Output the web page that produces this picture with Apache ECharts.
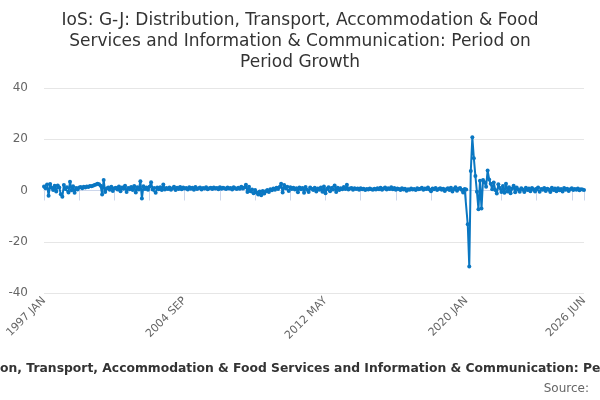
<!DOCTYPE html>
<html>
<head>
<meta charset="utf-8">
<script src="https://cdn.jsdelivr.net/npm/echarts@6/dist/echarts.min.js"></script>
<style>
  html, body { margin: 0; padding: 0; background: #fff; }
  #main { width: 600px; height: 400px; }
</style>
</head>
<body>
<div id="main"></div>
<script>
var chartDom = document.getElementById('main');
var myChart = echarts.init(chartDom);
var option;

var monthNames = ['JAN', 'FEB', 'MAR', 'APR', 'MAY', 'JUN', 'JUL', 'AUG', 'SEP', 'OCT', 'NOV', 'DEC'];

// monthly categories, 1997 JAN .. 2026 JUN
var categories = [];
for (var y = 1997; y <= 2026; y++) {
  for (var m = 0; m < 12; m++) {
    if (y === 2026 && m > 5) break;
    categories.push(y + ' ' + monthNames[m]);
  }
}

// period on period growth (%), one row per year
var growth = [
  1.6, 0.9, 2.3, -2.0, 2.5, 1.1, 0.2, 1.9, -0.4, 2.0, 1.2, -1.5,
  -2.4, 2.1, 0.6, 1.3, -0.8, 3.4, 0.1, 1.7, -0.9, 1.0, 0.4, 1.2,
  1.4, 0.9, 1.5, 1.2, 1.6, 1.4, 1.8, 1.7, 1.9, 2.1, 2.3, 2.6,
  2.4, 1.9, -1.6, 4.1, -0.6, 0.8, 1.2, 0.3, 1.5, -0.2, 0.9, 1.1,
  0.4, 1.6, -0.3, 1.2, 0.7, 1.9, -0.6, 1.0, 0.5, 1.4, 0.2, 1.8,
  -0.8, 1.3, 0.4, 3.6, -3.1, 1.7, 0.6, 1.2, 0.3, 1.5, 3.2, 0.4,
  1.0, -0.9, 1.2, 0.5, 1.3, 0.2, 2.3, 0.4, 1.0, 0.6, 1.2, 0.3,
  0.9, 1.5, 0.2, 1.1, 0.6, 1.4, 0.5, 1.2, 0.8, 1.0, 0.4, 1.3,
  0.7, 1.1, 0.3, 1.4, 0.6, 0.9, 1.2, 0.4, 1.0, 0.8, 1.3, 0.5,
  0.9, 1.1, 0.6, 1.2, 0.8, 1.0, 0.5, 1.3, 0.7, 1.1, 0.9, 0.6,
  1.2, 0.8, 1.0, 0.4, 1.3, 0.9, 0.6, 1.1, 0.7, 1.5, 0.8, 1.2,
  2.2, -0.6, 1.5, -0.3, 0.4, -1.1, 0.2, -0.8, -1.6, -0.4, -1.9, -0.2,
  -1.2, -0.3, 0.2, -0.6, 0.5, 0.1, 0.8, 0.3, 1.1, 0.6, 1.4, 2.6,
  -0.8, 2.1, 0.9, 1.5, -0.2, 1.3, 0.6, 1.1, 0.4, 0.9, -0.7, 1.2,
  0.5, 1.0, -0.9, 1.4, 0.3, -0.6, 1.2, 0.7, 0.2, 1.1, -0.4, 0.8,
  0.3, 1.2, -0.5, 1.6, -1.1, 0.7, 1.3, -0.3, 1.0, 0.4, 2.0, -0.6,
  1.1, 0.2, 0.9, 0.5, 1.4, 0.6, 2.2, 0.4, 0.8, 1.0, 0.3, 0.9,
  0.6, 0.8, 0.3, 0.9, 0.5, 0.7, 0.2, 0.6, 0.4, 0.8, 0.5, 0.3,
  0.7, 0.4, 0.9, 0.5, 1.1, 0.3, 0.8, 1.2, 0.4, 0.9, 0.6, 1.3,
  0.5, 1.0, 0.3, 0.8, 0.6, 0.2, 0.9, 0.4, 0.7, -0.1, 0.5, 0.3,
  0.8, 0.4, 0.6, 0.2, 0.9, 0.5, 0.7, 1.1, 0.3, 0.8, 0.6, 1.2,
  0.4, -0.3, 0.8, 0.5, 1.0, 0.2, 0.6, 0.9, 0.3, 0.7, -0.2, 0.5,
  0.9, 0.2, 1.1, -0.4, 0.6, 1.3, -0.1, 0.7, 1.0, 0.3, -0.8, 0.6,
  0.4, -13.2, -29.7, 7.6, 20.8, 12.6, 5.7, -0.5, -7.3, 3.8, -7.0, 4.1,
  3.2, 1.5, 7.8, 4.3, 2.6, 0.5, 3.1, 0.2, -1.2, 2.4, 1.0, -0.6,
  1.8, -0.9, 2.6, -0.4, 1.3, -1.1, 0.8, 1.9, -0.7, 1.2, 0.3, -0.5,
  0.9, 0.4, -0.6, 1.1, 0.2, 0.8, -0.3, 1.0, 0.5, -0.4, 0.7, 1.2,
  -0.5, 0.6, 0.3, 1.0, -0.2, 0.7, 0.4, -0.6, 1.1, 0.2, 0.8, -0.3,
  0.9, 0.1, 0.6, -0.4, 1.0, 0.3, 0.7, -0.2, 0.5, 0.9, 0.2, 0.6,
  0.3, 0.8, 0.1, 0.5, 0.4, 0.2
];

var titleText = 'IoS: G-J: Distribution, Transport, Accommodation & Food Services and Information & Communication: Period on Period Growth';
var lastIndex = categories.length - 1;

option = {
  textStyle: { fontFamily: 'DejaVu Sans' },
  graphic: [
    {
      type: 'text',
      x: 300,
      y: 10,
      style: {
        text: 'IoS: G-J: Distribution, Transport, Accommodation & Food\nServices and Information & Communication: Period on\nPeriod Growth',
        align: 'center',
        verticalAlign: 'top',
        fontFamily: 'DejaVu Sans',
        fontSize: 17,
        lineHeight: 21,
        fill: '#333'
      }
    },
    {
      type: 'text',
      x: 589,
      y: 383,
      style: {
        text: 'Source:',
        align: 'right',
        verticalAlign: 'top',
        fontFamily: 'DejaVu Sans',
        fontSize: 12,
        fill: '#666'
      }
    }
  ],
  grid: { left: 44, right: 16, top: 88, bottom: 107, outerBoundsMode: 'none', containLabel: false },
  xAxis: {
    type: 'category',
    boundaryGap: false,
    data: categories,
    name: titleText,
    nameLocation: 'middle',
    nameGap: 70,
    nameTextStyle: { fontSize: 12.35, fontWeight: 'bold', color: '#333' },
    axisLine: { lineStyle: { color: '#ccd6eb' } },
    axisTick: {
      length: 10,
      lineStyle: { color: '#ccd6eb' },
      interval: function (i) { return i % 23 === 0 || i === lastIndex; }
    },
    axisLabel: {
      rotate: 45,
      color: '#666',
      fontSize: 11,
      margin: 6,
      interval: function (i) { return i % 92 === 0 || i === lastIndex; }
    }
  },
  yAxis: {
    type: 'value',
    min: -40,
    max: 40,
    interval: 20,
    axisLabel: { color: '#666', fontSize: 12, margin: 16 },
    splitLine: { lineStyle: { color: '#e6e6e6' } }
  },
  series: [
    {
      name: 'Period on Period Growth',
      type: 'line',
      data: growth,
      symbol: 'circle',
      symbolSize: 4,
      showSymbol: true,
      showAllSymbol: true,
      itemStyle: { color: '#0a77c2' },
      lineStyle: { color: '#0a77c2', width: 2 },
      animation: false
    }
  ]
};

option && myChart.setOption(option);
</script>
</body>
</html>
